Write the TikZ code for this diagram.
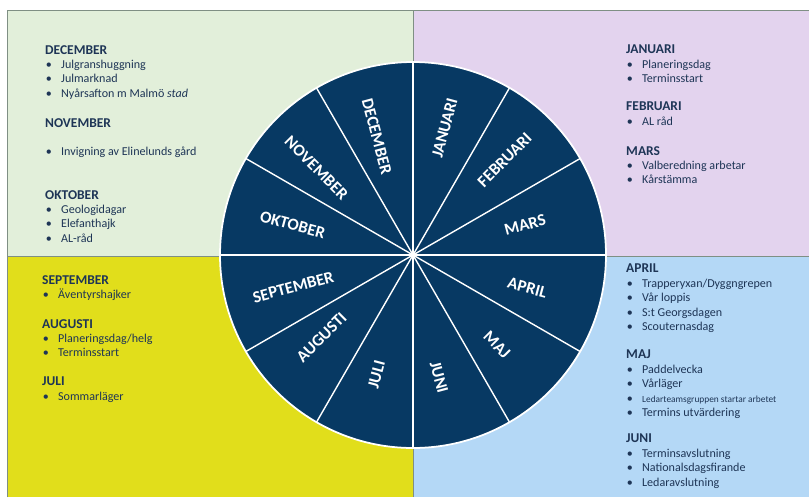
\documentclass[tikz,border=0pt]{standalone}
\usepackage{fontspec}
\setmainfont{Carlito}

\definecolor{wheelNavy}{HTML}{073963}
\definecolor{ink}{HTML}{1E3556}
\definecolor{paleGreen}{HTML}{E2EFDA}
\definecolor{paleLilac}{HTML}{E3D3EE}
\definecolor{brightYellow}{HTML}{E1DE1B}
\definecolor{paleBlue}{HTML}{B4D8F6}
\definecolor{frameGrey}{HTML}{7F8F84}

% bullet with fixed indent, heading font
\newcommand{\itm}{\makebox[13.6pt][l]{\kern0.5pt\textbullet}}
\newcommand{\mhead}[1]{{\bfseries\fontsize{11.5}{12.3}\selectfont #1}}

\begin{document}
\begin{tikzpicture}[x=0.03cm, y=-0.03cm,
    every node/.style={inner sep=0pt},
    block/.style={anchor=north west, align=left, text=ink,
                  font=\fontsize{10.3}{12.3}\selectfont},
    month/.style={text=white, font=\bfseries\fontsize{14.3}{15}\selectfont}]
        \useasboundingbox (0,0) rectangle (809,497);

        % Quarter panels
        \fill[paleGreen]    (7,10)    rectangle (413,256);
        \fill[paleLilac]    (413,10)  rectangle (809,256);
        \fill[brightYellow] (7,256)   rectangle (413,497);
        \fill[paleBlue]     (413,256) rectangle (809,497);
        \draw[frameGrey,thin] (7,497) -- (7,10) -- (809,10);
        \draw[frameGrey,thin] (7,256) -- (809,256);
        \draw[frameGrey,thin] (413,10) -- (413,497);

        % Activities, top left
        \node[block] (dec) at (45,45)  {\mhead{DECEMBER}\\ \itm Julgranshuggning\\ \itm Julmarknad\\
                                         \itm Nyårsafton m Malmö \textit{stad}};
        \node[block] (nov) at (45,118) {\mhead{NOVEMBER}\\[12.3pt] \itm Invigning av Elinelunds gård};
        \node[block] (okt) at (45,190) {\mhead{OKTOBER}\\ \itm Geologidagar\\ \itm Elefanthajk\\ \itm AL-råd};

        % Activities, top right
        \node[block] (jan) at (626,45)  {\mhead{JANUARI}\\ \itm Planeringsdag\\ \itm Terminsstart};
        \node[block] (feb) at (626,102) {\mhead{FEBRUARI}\\ \itm AL råd};
        \node[block] (mar) at (626,146) {\mhead{MARS}\\ \itm Valberedning arbetar\\ \itm Kårstämma};

        % Activities, bottom left
        \node[block] (sep) at (42,275) {\mhead{SEPTEMBER}\\ \itm Äventyrshajker};
        \node[block] (aug) at (42,319) {\mhead{AUGUSTI}\\ \itm Planeringsdag/helg\\ \itm Terminsstart};
        \node[block] (jul) at (42,377) {\mhead{JULI}\\ \itm Sommarläger};

        % Activities, bottom right
        \node[block] (apr) at (626,264) {\mhead{APRIL}\\ \itm Trapperyxan/Dyggngrepen\\ \itm Vår loppis\\
                                          \itm S:t Georgsdagen\\ \itm Scouternasdag};
        \node[block] (maj) at (626,350) {\mhead{MAJ}\\ \itm Paddelvecka\\ \itm Vårläger\\
                                          \itm {\fontsize{8}{12.3}\selectfont Ledarteamsgruppen startar arbetet}\\
                                          \itm Termins utvärdering};
        \node[block] (jun) at (626,434) {\mhead{JUNI}\\ \itm Terminsavslutning\\ \itm Nationalsdagsfirande\\
                                          \itm Ledaravslutning};

        % Year wheel
        \begin{scope}[shift={(413,255)}, x=0.03cm, y=0.03cm]
            \fill[wheelNavy] (0,0) circle (193);
            \foreach \a in {0,30,...,330}{
                \draw[white,line width=1.2pt] (0,0) -- (\a:193);
            }
            \draw[white,line width=1.5pt] (0,0) circle (193);
            \fill[white] (0,0) circle (3);

            \foreach \a/\r/\rot/\name in {76/131/75/JANUARI, 46/132/45/FEBRUARI, 15/116/15/MARS,
                    -16/119/-15/APRIL, -47/123/-45/MAJ, -78/125/-75/JUNI, 253/125/75/JULI,
                    222/123/45/AUGUSTI, 195/124/15/SEPTEMBER, 166/124/-15/OKTOBER,
                    138/130/-45/NOVEMBER, 107/124/-75/DECEMBER}{
                \node[month,rotate=\rot] (w-\name) at (\a:\r) {\name};
            }
        \end{scope}
    \end{tikzpicture}
\end{document}
